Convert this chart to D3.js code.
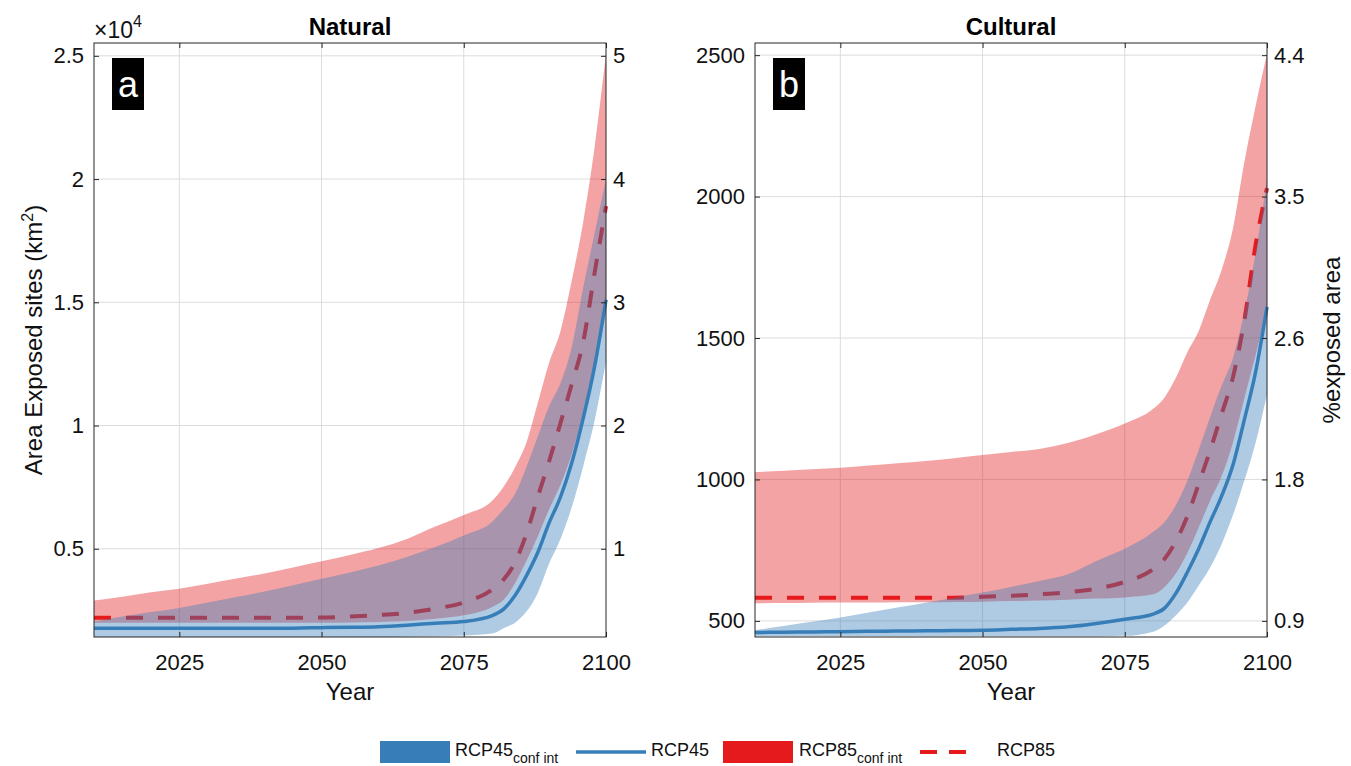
<!DOCTYPE html>
<html lang="en">
<head>
	<meta charset="UTF-8">
	<title>exposed area</title>
	<style>
		* {
			margin: 0;
			padding: 0;
		}
		body {
			background: #fff;
		}
		svg {
			display: block;
			font-family: "Liberation Sans", Arial, sans-serif;
		}
	</style>
</head>
<body>
	<script src="https://cdn.jsdelivr.net/npm/d3@7"></script>
	<script>
		// years of the projection
		var years = [2010, 2015, 2020, 2025, 2030, 2035, 2040, 2045, 2050, 2055, 2060, 2065, 2070, 2075,
			2080, 2082, 2084, 2086, 2088, 2090, 2092, 2094, 2096, 2098, 2100];

		// Natural sites, km2
		var natUpper85 = [2900, 3050, 3240, 3380, 3580, 3790, 4000, 4240, 4490, 4750, 5030, 5400, 5900, 6370,
			6950, 7520, 8300, 9300, 10900, 12550, 13830, 15900, 18270, 21300, 25100];
		var natMean85 = [2200, 2200, 2200, 2200, 2200, 2200, 2200, 2200, 2210, 2250, 2310, 2400, 2570, 2820,
			3350, 3750, 4450, 5600, 7100, 8550, 10100, 11700, 13400, 16200, 18900];
		var natLower85 = [2000, 2000, 2000, 2000, 2000, 2000, 2000, 2000, 2000, 2010, 2030, 2070, 2160, 2300,
			2640, 2930, 3600, 4500, 5500, 6600, 7600, 8850, 10500, 12450, 14700];
		var natUpper45 = [2050, 2250, 2430, 2600, 2820, 3040, 3270, 3520, 3780, 4040, 4320, 4670, 5070, 5540,
			6100, 6600, 7220, 8300, 9550, 10780, 11720, 13200, 15600, 17800, 20000];
		var natMean45 = [1780, 1780, 1780, 1780, 1780, 1780, 1780, 1780, 1800, 1815, 1840, 1900, 1980, 2050,
			2290, 2550, 3100, 3900, 4850, 6050, 7100, 8500, 10300, 12400, 15100];
		var natLower45 = [1420, 1420, 1420, 1420, 1420, 1420, 1420, 1420, 1420, 1420, 1420, 1430, 1450, 1480,
			1560, 1780, 2000, 2450, 3200, 4400, 5400, 6700, 8350, 10200, 12600];

		// Cultural sites, km2
		var culUpper85 = [1026, 1031, 1036, 1041, 1049, 1057, 1065, 1075, 1086, 1097, 1108, 1129, 1160, 1198,
			1250, 1290, 1360, 1450, 1525, 1635, 1740, 1885, 2120, 2320, 2506];
		var culMean85 = [582, 582, 582, 582, 582, 582, 582, 582, 585, 589, 594, 601, 614, 638,
			683, 720, 782, 870, 985, 1102, 1230, 1360, 1560, 1830, 2030];
		var culLower85 = [562, 563, 564, 565, 565, 566, 566, 567, 568, 570, 572, 575, 579, 583,
			594, 620, 668, 740, 830, 925, 1010, 1130, 1285, 1440, 1600];
		var culUpper45 = [467, 482, 497, 512, 530, 547, 564, 582, 600, 620, 641, 665, 712, 755,
			815, 850, 910, 995, 1105, 1220, 1330, 1428, 1590, 1800, 2060];
		var culMean45 = [459, 460, 461, 462, 463, 464, 465, 466, 467, 470, 473, 479, 491, 506,
			524, 545, 598, 672, 755, 850, 940, 1050, 1210, 1380, 1610];
		var culLower45 = [446, 446, 446, 446, 446, 446, 446, 446, 446, 446, 446, 446, 446, 447,
			462, 484, 520, 565, 625, 689, 770, 873, 995, 1130, 1300];

		// ticks
		var xTicks = [2025, 2050, 2075, 2100];
		var natTicks = [5000, 10000, 15000, 20000, 25000];
		var natRightLabels = ['1', '2', '3', '4', '5'];
		var culTicks = [500, 1000, 1500, 2000, 2500];
		var culRightLabels = ['0.9', '1.8', '2.6', '3.5', '4.4'];

		var width = 1351, height = 766;
		var top_ = 43, bottom = 637, plotW = 512;
		var blue = '#377eb8', red = '#e41a1c';

		var svg = d3.select('body').append('svg').attr('width', width).attr('height', height);

		function drawPanel(opt) {
			var g = svg.append('g');
			var x = d3.scaleLinear().domain([2010, 2100]).range([opt.left, opt.left + plotW]);
			var y = d3.scaleLinear().domain(opt.yDomain).range([bottom, top_]);

			var rows = years.map(function (yr, i) {
				return {
					year: yr,
					lo85: opt.lo85[i], mid85: opt.mid85[i], hi85: opt.hi85[i],
					lo45: opt.lo45[i], mid45: opt.mid45[i], hi45: opt.hi45[i]
				};
			});

			// grid
			g.selectAll('.vgrid').data(xTicks.slice(0, -1)).enter().append('line')
				.attr('x1', function (d) {return x(d)}).attr('x2', function (d) {return x(d)})
				.attr('y1', top_).attr('y2', bottom)
				.attr('stroke', '#dcdcdc').attr('stroke-width', 1);
			g.selectAll('.hgrid').data(opt.yTicks).enter().append('line')
				.attr('x1', opt.left).attr('x2', opt.left + plotW)
				.attr('y1', function (d) {return y(d)}).attr('y2', function (d) {return y(d)})
				.attr('stroke', '#dcdcdc').attr('stroke-width', 1);

			var band = function (lo, hi) {
				return d3.area().curve(d3.curveMonotoneX)
					.x(function (d) {return x(d.year)})
					.y0(function (d) {return y(d[lo])})
					.y1(function (d) {return y(d[hi])});
			};
			var line = function (k) {
				return d3.line().curve(d3.curveMonotoneX)
					.x(function (d) {return x(d.year)})
					.y(function (d) {return y(d[k])});
			};

			// RCP85 band + mean
			g.append('path').datum(rows).attr('d', band('lo85', 'hi85'))
				.attr('fill', red).attr('fill-opacity', 0.4);
			g.append('path').datum(rows).attr('d', line('mid85'))
				.attr('fill', 'none').attr('stroke', red).attr('stroke-width', 4)
				.attr('stroke-dasharray', '17,15');
			// RCP45 band + mean
			g.append('path').datum(rows).attr('d', band('lo45', 'hi45'))
				.attr('fill', blue).attr('fill-opacity', 0.4);
			g.append('path').datum(rows).attr('d', line('mid45'))
				.attr('fill', 'none').attr('stroke', blue).attr('stroke-width', 3.5);

			// axes
			var axisCol = '#262626';
			var xb = g.append('g').attr('transform', 'translate(0,' + bottom + ')')
				.call(d3.axisBottom(x).tickValues(xTicks).tickSizeInner(-5).tickSizeOuter(0).tickPadding(17)
					.tickFormat(d3.format('d')));
			var xt = g.append('g').attr('transform', 'translate(0,' + top_ + ')')
				.call(d3.axisTop(x).tickValues(xTicks).tickSizeInner(-5).tickSizeOuter(0).tickFormat(''));
			var yl = g.append('g').attr('transform', 'translate(' + opt.left + ',0)')
				.call(d3.axisLeft(y).tickValues(opt.yTicks).tickSizeInner(-5).tickSizeOuter(0).tickPadding(10)
					.tickFormat(opt.leftFormat));
			var yr = g.append('g').attr('transform', 'translate(' + (opt.left + plotW) + ',0)')
				.call(d3.axisRight(y).tickValues(opt.yTicks).tickSizeInner(-5).tickSizeOuter(0).tickPadding(7)
					.tickFormat(function (d, i) {return opt.rightLabels[i]}));
			[xb, xt, yl, yr].forEach(function (a) {
				a.select('.domain').remove();
				a.selectAll('line').attr('stroke', axisCol);
				a.selectAll('text').attr('fill', '#111').style('font-size', '22px')
					.style('font-family', '"Liberation Sans", Arial, sans-serif');
			});

			g.append('rect').attr('x', opt.left).attr('y', top_).attr('width', plotW).attr('height', bottom - top_)
				.attr('fill', 'none').attr('stroke', axisCol).attr('stroke-width', 1);

			// title, x label
			g.append('text').attr('x', opt.left + plotW / 2).attr('y', 35).attr('text-anchor', 'middle')
				.style('font-size', '24px').style('font-weight', 'bold').attr('fill', '#000').text(opt.title);
			g.append('text').attr('x', opt.left + plotW / 2).attr('y', 700).attr('text-anchor', 'middle')
				.style('font-size', '24px').attr('fill', '#111').text('Year');

			// panel letter
			g.append('rect').attr('x', opt.left + 18).attr('y', 58).attr('width', 32).attr('height', 52).attr('fill', '#000');
			g.append('text').attr('x', opt.left + 34).attr('y', 97).attr('text-anchor', 'middle')
				.style('font-size', '36px').attr('fill', '#fff').text(opt.letter);
			return g;
		}

		var ga = drawPanel({
			left: 94, title: 'Natural', letter: 'a',
			yDomain: [1420, 25520], yTicks: natTicks,
			leftFormat: function (d) {return d / 10000},
			rightLabels: natRightLabels,
			lo85: natLower85, mid85: natMean85, hi85: natUpper85,
			lo45: natLower45, mid45: natMean45, hi45: natUpper45
		});
		var gb = drawPanel({
			left: 755, title: 'Cultural', letter: 'b',
			yDomain: [443, 2543], yTicks: culTicks,
			leftFormat: function (d) {return d},
			rightLabels: culRightLabels,
			lo85: culLower85, mid85: culMean85, hi85: culUpper85,
			lo45: culLower45, mid45: culMean45, hi45: culUpper45
		});

		// x10^4 exponent
		var ex = svg.append('text').attr('x', 94).attr('y', 38).style('font-size', '23px').attr('fill', '#111');
		ex.append('tspan').text('\u00d710');
		ex.append('tspan').attr('dy', -11).style('font-size', '16px').text('4');

		// y labels
		var yl = svg.append('text').attr('transform', 'translate(42,340) rotate(-90)')
			.attr('text-anchor', 'middle').style('font-size', '24px').attr('fill', '#111');
		yl.append('tspan').text('Area Exposed sites (km');
		yl.append('tspan').attr('dy', -9).style('font-size', '16px').text('2');
		yl.append('tspan').attr('dy', 9).text(')');

		svg.append('text').attr('transform', 'translate(1340,340) rotate(-90)')
			.attr('text-anchor', 'middle').style('font-size', '24px').attr('fill', '#111').text('%exposed area');

		// legend
		var lg = svg.append('g');
		var ly = 752;
		lg.append('rect').attr('x', 380).attr('y', 741).attr('width', 70).attr('height', 22).attr('fill', blue);
		lg.append('line').attr('x1', 576).attr('x2', 646).attr('y1', ly).attr('y2', ly)
			.attr('stroke', blue).attr('stroke-width', 3.5);
		lg.append('rect').attr('x', 723).attr('y', 741).attr('width', 70).attr('height', 22).attr('fill', red);
		lg.append('line').attr('x1', 920).attr('x2', 966).attr('y1', ly).attr('y2', ly)
			.attr('stroke', red).attr('stroke-width', 4).attr('stroke-dasharray', '17,12');

		function legendText(xp, main, sub) {
			var t = lg.append('text').attr('x', xp).attr('y', 756).style('font-size', '18px').attr('fill', '#111');
			t.append('tspan').text(main);
			if (sub) t.append('tspan').attr('dy', 7).style('font-size', '14px').text(sub);
		}
		legendText(455, 'RCP45', 'conf int');
		legendText(651, 'RCP45');
		legendText(799, 'RCP85', 'conf int');
		legendText(997, 'RCP85');
	</script>
</body>
</html>
